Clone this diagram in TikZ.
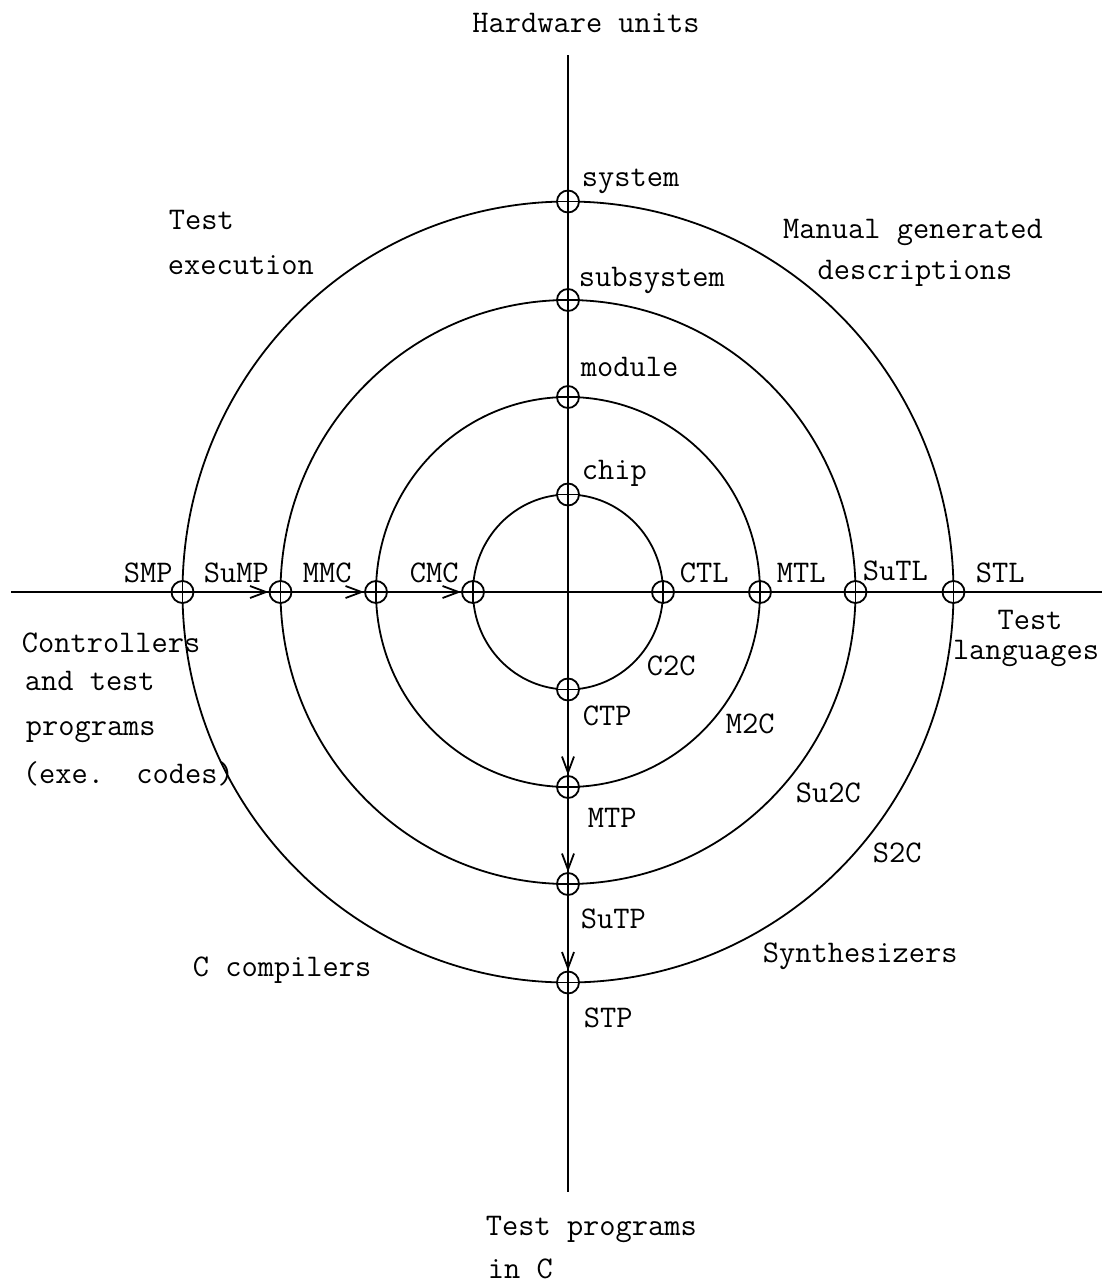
\documentclass[tikz,border=0pt]{standalone}
\usetikzlibrary{arrows.meta}
\begin{document}
\begin{tikzpicture}[x=1pt,y=-1pt,
  line width=1.8pt,
  lbl/.style={font=\ttfamily\fontsize{31.5}{40}\selectfont, inner sep=0pt, anchor=base west},
  lblc/.style={lbl, anchor=base},
  mk/.style={circle, draw, fill=white, minimum size=22pt, inner sep=0pt,
    path picture={\draw (path picture bounding box.north) -- (path picture bounding box.south)
                        (path picture bounding box.west) -- (path picture bounding box.east);}},
  arr/.style={-{Straight Barb[length=16pt,width=12pt]}}]
\useasboundingbox (0,0) rectangle (1108,1285);

\coordinate (C) at (568,592);
\coordinate (hl) at (11,592);
\coordinate (hr) at (1102,592);
\coordinate (vt) at (568,55);
\coordinate (vb) at (568,1192);

% rings
\draw (C) ellipse [x radius=95, y radius=97.5];
\draw (C) ellipse [x radius=192, y radius=195];
\draw (C) ellipse [x radius=287.5, y radius=292];
\draw (C) ellipse [x radius=385.5, y radius=390.5];

% axes
\draw (hl) -- (hr);
\draw (vt) -- (vb);

% markers
\node[mk] (mChip) at (568,494.5) {};
\node[mk] (mMod)  at (568,397) {};
\node[mk] (mSub)  at (568,300) {};
\node[mk] (mSys)  at (568,201.5) {};
\node[mk] (mCTP)  at (568,689.5) {};
\node[mk] (mMTP)  at (568,787) {};
\node[mk] (mSuTP) at (568,884) {};
\node[mk] (mSTP)  at (568,982.5) {};
\node[mk] (mCMC)  at (473,592) {};
\node[mk] (mMMC)  at (376,592) {};
\node[mk] (mSuMP) at (280.5,592) {};
\node[mk] (mSMP)  at (182.5,592) {};
\node[mk] (mCTL)  at (663,592) {};
\node[mk] (mMTL)  at (760,592) {};
\node[mk] (mSuTL) at (855.5,592) {};
\node[mk] (mSTL)  at (953.5,592) {};

% arrows
\draw[arr] (mSMP) -- (mSuMP);
\draw[arr] (mSuMP) -- (mMMC);
\draw[arr] (mMMC) -- (mCMC);
\draw[arr] (mCTP) -- (mMTP);
\draw[arr] (mMTP) -- (mSuTP);
\draw[arr] (mSuTP) -- (mSTP);

% labels
\node[lblc] (tHw) at (586,32) {Hardware units};
\node[lbl] (tSys) at (581,186) {system};
\node[lbl] (tSub) at (578,286) {subsystem};
\node[lbl] (tMod) at (580,376) {module};
\node[lbl] (tChip) at (581,479) {chip};

\node[lbl] (tTE1) at (168,229) {Test};
\node[lbl] (tTE2) at (167,274) {execution};
\node[lblc] (tMG1) at (913,238) {Manual generated};
\node[lblc] (tMG2) at (915,279) {descriptions};

\node[lbl] (tSMP) at (123,582) {SMP};
\node[lbl] (tSuMP) at (203,582) {SuMP};
\node[lbl] (tMMC) at (302,582) {MMC};
\node[lbl] (tCMC) at (409,582) {CMC};
\node[lbl] (tCTL) at (679,582) {CTL};
\node[lbl] (tMTL) at (776,582) {MTL};
\node[lbl] (tSuTL) at (862,580) {SuTL};
\node[lbl] (tSTL) at (975,582) {STL};

\node[lblc] (tTL1) at (1030,629) {Test};
\node[lblc] (tTL2) at (1026,659) {languages};

\node[lbl] (tCo1) at (21,652) {Controllers};
\node[lbl] (tCo2) at (24,690) {and test};
\node[lbl] (tCo3) at (25,735) {programs};
\node[lbl] (tCo4) at (22,783) {(exe.\ \ codes)};

\node[lbl] (tC2C) at (646,675) {C2C};
\node[lbl] (tM2C) at (725,733) {M2C};
\node[lbl] (tSu2C) at (795,802) {Su2C};
\node[lbl] (tS2C) at (872,862) {S2C};

\node[lbl] (tCTP) at (582,725) {CTP};
\node[lbl] (tMTP) at (587,827) {MTP};
\node[lbl] (tSuTP) at (580,928) {SuTP};
\node[lbl] (tSTP) at (583,1027) {STP};

\node[lbl] (tSyn) at (762,962) {Synthesizers};
\node[lbl] (tCC) at (192,976) {C compilers};

\node[lbl] (tTP1) at (485,1235) {Test programs};
\node[lbl] (tTP2) at (487,1278) {in C};
\end{tikzpicture}
\end{document}
